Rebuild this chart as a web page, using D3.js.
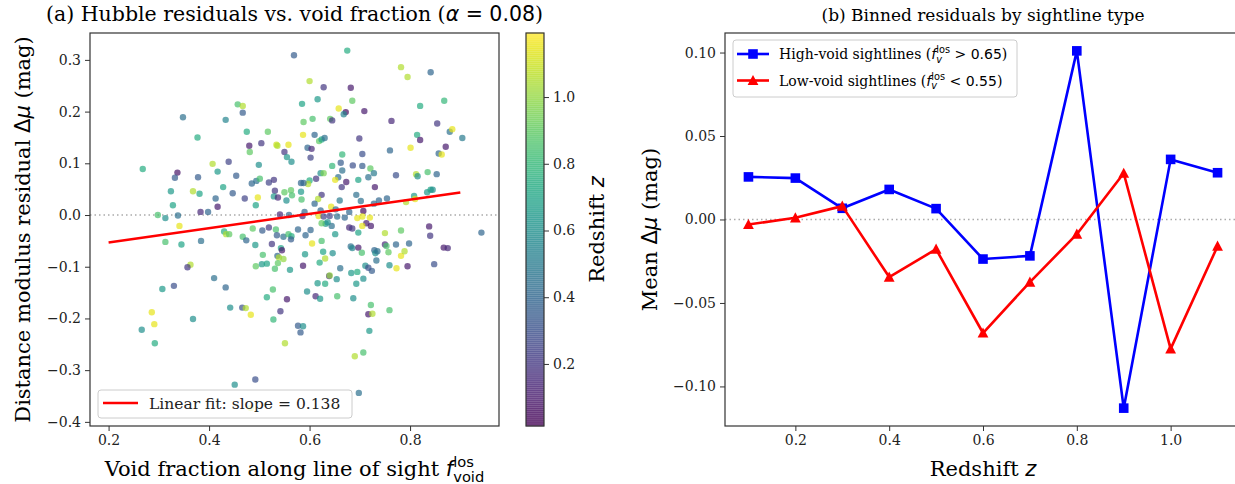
<!DOCTYPE html>
<meta charset="utf-8">
<script src="https://d3js.org/d3.v7.min.js"></script>
<style>
  body { margin: 0; background: #fff; }
  text { white-space: pre; }
</style>
<svg id="chart"></svg>
<script>

// ---- data ----
// scatter: [void fraction f_los, residual dmu (mag), redshift z]
const sneData = [
  [0.569,0.309,0.35],[0.457,0.214,0.85],[0.467,0.211,1.05],[0.467,0.198,0.35],[0.348,0.189,0.45],
  [0.433,0.184,0.55],[0.377,0.150,0.75],[0.475,0.161,0.75],[0.517,0.161,0.9],[0.480,0.134,0.1],
  [0.481,0.122,0.9],[0.504,0.139,0.2],[0.534,0.136,1.1],[0.536,0.134,1.05],[0.558,0.136,1.15],
  [0.550,0.122,0.2],[0.555,0.112,0.65],[0.564,0.103,0.6],[0.268,0.089,0.75],[0.337,0.082,0.08],
  [0.332,0.072,0.35],[0.378,0.073,0.35],[0.407,0.099,1.05],[0.417,0.084,0.65],[0.439,0.103,0.25],
  [0.454,0.076,0.35],[0.499,0.097,0.6],[0.485,0.061,0.4],[0.494,0.066,0.45],[0.501,0.070,0.85],
  [0.519,0.063,0.25],[0.529,0.068,0.2],[0.324,0.046,0.65],[0.368,0.046,1.05],[0.381,0.041,0.7],
  [0.428,0.054,0.7],[0.447,0.042,0.35],[0.413,0.032,0.4],[0.471,0.032,0.25],[0.497,0.034,1.15],
  [0.531,0.047,0.2],[0.529,0.036,0.65],[0.537,0.034,0.15],[0.550,0.044,0.9],[0.563,0.048,0.9],
  [0.565,0.038,0.85],[0.554,0.028,0.6],[0.328,0.019,0.7],[0.417,0.016,0.1],[0.493,0.019,0.7],
  [0.675,0.318,0.75],[0.782,0.286,1.05],[0.795,0.267,1.05],[0.841,0.276,0.4],[0.600,0.259,1.05],
  [0.628,0.247,0.2],[0.682,0.246,0.1],[0.585,0.215,0.7],[0.616,0.224,0.65],[0.685,0.221,0.9],
  [0.658,0.206,1.15],[0.672,0.199,0.05],[0.668,0.195,0.55],[0.709,0.201,0.1],[0.588,0.180,0.9],
  [0.606,0.186,0.85],[0.641,0.186,0.9],[0.645,0.183,0.2],[0.763,0.182,0.15],[0.820,0.211,0.75],
  [0.868,0.221,0.8],[0.854,0.177,0.2],[0.587,0.155,1.15],[0.610,0.155,0.4],[0.619,0.143,0.9],
  [0.624,0.146,0.7],[0.630,0.149,0.45],[0.699,0.148,0.2],[0.814,0.155,0.75],[0.820,0.145,0.1],
  [0.879,0.161,0.45],[0.884,0.166,1.15],[0.904,0.149,0.5],[0.596,0.130,0.4],[0.604,0.128,0.15],
  [0.602,0.111,0.25],[0.665,0.117,0.8],[0.705,0.118,0.3],[0.760,0.125,0.4],[0.801,0.130,1.15],
  [0.857,0.119,0.4],[0.863,0.117,1.15],[0.871,0.132,0.1],[0.645,0.095,0.8],[0.662,0.101,0.35],
  [0.665,0.086,0.45],[0.686,0.096,0.3],[0.705,0.095,0.35],[0.721,0.090,0.9],[0.728,0.081,0.5],
  [0.717,0.073,0.45],[0.697,0.068,0.7],[0.657,0.073,0.45],[0.622,0.081,0.6],[0.628,0.081,0.95],
  [0.613,0.070,0.2],[0.600,0.067,0.75],[0.597,0.060,1.05],[0.583,0.062,0.4],[0.588,0.062,0.4],
  [0.651,0.068,1.15],[0.673,0.064,0.1],[0.664,0.054,0.2],[0.730,0.054,0.1],[0.772,0.077,0.3],
  [0.812,0.079,1.05],[0.815,0.075,0.6],[0.835,0.083,0.85],[0.853,0.079,0.4],[0.583,0.045,0.65],
  [0.624,0.039,0.2],[0.617,0.031,1.05],[0.584,0.030,0.85],[0.610,0.022,0.4],[0.660,0.028,0.5],
  [0.693,0.039,0.45],[0.702,0.027,0.45],[0.738,0.028,0.4],[0.754,0.032,0.4],[0.808,0.037,0.65],
  [0.792,0.025,1.05],[0.810,0.031,1.15],[0.834,0.044,0.65],[0.841,0.049,0.7],[0.845,0.049,0.6],
  [0.728,0.022,0.4],[0.590,0.006,0.4],[0.622,0.009,0.4],[0.643,0.016,1.15],[0.652,0.011,0.4],
  [0.679,0.006,0.4],[0.707,0.008,0.05],
  [0.298,0.000,0.85],[0.313,-0.006,0.6],[0.338,-0.001,0.45],[0.383,0.006,0.15],[0.398,0.006,0.4],
  [0.341,-0.021,1.15],[0.313,-0.052,0.85],[0.345,-0.057,0.7],[0.384,-0.050,0.45],[0.430,-0.032,0.75],
  [0.434,-0.037,1.05],[0.440,-0.037,0.9],[0.467,-0.042,0.85],[0.474,-0.049,0.4],[0.487,-0.026,0.9],
  [0.506,-0.030,0.35],[0.519,-0.024,0.2],[0.533,-0.028,0.85],[0.535,-0.039,0.35],[0.548,-0.042,0.45],
  [0.558,-0.037,0.85],[0.564,-0.041,0.75],[0.563,-0.047,0.35],[0.492,-0.058,0.65],[0.525,-0.056,0.2],
  [0.543,-0.064,0.7],[0.545,-0.068,0.1],[0.507,-0.077,0.85],[0.536,-0.079,0.4],[0.539,-0.082,1.05],
  [0.548,-0.085,1.0],[0.537,-0.093,0.9],[0.505,-0.095,0.65],[0.515,-0.094,0.7],[0.493,-0.099,0.9],
  [0.531,-0.104,0.85],[0.561,-0.106,0.65],[0.363,-0.096,1.05],[0.357,-0.101,0.2],[0.410,-0.122,0.45],
  [0.433,-0.140,0.4],[0.330,-0.137,0.3],[0.307,-0.143,0.65],[0.527,-0.144,0.85],[0.515,-0.159,0.75],
  [0.555,-0.163,0.1],[0.442,-0.179,0.6],[0.466,-0.179,0.3],[0.473,-0.180,1.05],[0.483,-0.193,1.15],
  [0.542,-0.186,0.2],[0.528,-0.202,0.8],[0.368,-0.201,0.6],[0.286,-0.188,1.15],[0.291,-0.211,1.15],
  [0.266,-0.222,0.6],[0.292,-0.248,0.75],[0.551,-0.248,1.05],[0.451,-0.328,0.6],[0.492,-0.318,0.3],
  [0.483,-0.373,1.1],[0.541,0.001,0.15],[0.559,0.000,0.4],
  [0.577,-0.028,0.4],[0.602,-0.029,0.4],[0.592,-0.039,0.4],[0.605,-0.055,1.15],[0.624,-0.050,0.85],
  [0.591,-0.076,0.65],[0.627,-0.071,0.7],[0.631,-0.084,1.05],[0.646,-0.074,0.6],[0.620,-0.092,0.75],
  [0.587,-0.098,0.1],[0.616,-0.132,0.65],[0.631,-0.133,0.75],[0.639,-0.118,0.15],[0.640,-0.117,1.0],
  [0.654,-0.124,0.6],[0.661,-0.103,0.45],[0.595,-0.148,0.6],[0.612,-0.157,0.15],[0.621,-0.162,0.65],
  [0.655,-0.157,0.85],[0.687,-0.161,0.6],[0.683,-0.112,0.65],[0.695,-0.110,0.75],[0.693,-0.133,0.65],
  [0.707,-0.123,0.6],[0.711,-0.098,0.6],[0.717,-0.102,0.3],[0.724,-0.108,0.35],[0.682,-0.061,0.45],
  [0.685,-0.064,0.55],[0.697,-0.063,0.1],[0.704,-0.073,0.85],[0.729,-0.068,0.4],[0.731,-0.074,0.6],
  [0.735,-0.070,0.45],[0.733,-0.088,0.45],[0.750,-0.057,0.15],[0.753,-0.060,0.85],[0.757,-0.072,0.9],
  [0.772,-0.057,0.4],[0.759,-0.097,0.6],[0.773,-0.103,1.15],[0.795,-0.099,0.1],[0.782,-0.079,1.15],
  [0.789,-0.070,1.05],[0.798,-0.055,0.4],[0.750,-0.035,1.05],[0.782,-0.030,0.9],[0.838,-0.022,0.1],
  [0.840,-0.040,0.2],[0.867,-0.063,0.1],[0.875,-0.064,0.15],[0.848,-0.095,0.3],[0.942,-0.034,0.4],
  [0.722,-0.174,0.85],[0.717,-0.192,0.1],[0.725,-0.191,1.05],[0.719,-0.224,0.65],[0.759,-0.184,0.85],
  [0.690,-0.273,1.05],[0.707,-0.266,0.85],[0.698,-0.344,0.45],[0.577,-0.214,0.35],[0.587,-0.215,0.6],
  [0.582,-0.227,0.35],[0.586,-0.002,0.15],[0.618,-0.002,1.15],[0.628,-0.003,0.25],[0.640,-0.002,0.25],
  [0.655,-0.003,0.45],[0.670,-0.005,0.4],[0.695,-0.006,1.15],[0.705,-0.003,1.15],[0.720,-0.005,1.15],
  [0.713,-0.016,0.1],[0.722,-0.021,0.1],[0.705,-0.021,1.15],[0.679,-0.024,0.15],[0.685,-0.026,0.2],
  [0.697,-0.034,0.7],[0.651,-0.037,0.65],[0.644,-0.021,0.45],[0.632,-0.017,0.65],[0.624,-0.016,0.9],
  [0.636,-0.014,0.6]
];

// linear fit shown in panel (a)
const fitSlope = 0.138;
const fitIntercept = -0.0806;
const fitRange = [0.2, 0.9];

// panel (b) binned means
const zBins = [0.1, 0.2, 0.3, 0.4, 0.5, 0.6, 0.7, 0.8, 0.9, 1.0, 1.1];
const highVoidMean = [0.0255, 0.0248, 0.0067, 0.018, 0.0065, -0.0237, -0.0218, 0.101, -0.113, 0.036, 0.028];
const lowVoidMean = [-0.003, 0.001, 0.008, -0.0345, -0.0178, -0.068, -0.0375, -0.0088, 0.0277, -0.0775, -0.016];

// tick values
const xTicksA = [0.2, 0.4, 0.6, 0.8];
const yTicksA = [-0.4, -0.3, -0.2, -0.1, 0.0, 0.1, 0.2, 0.3];
const cbTicks = [0.2, 0.4, 0.6, 0.8, 1.0];
const xTicksB = [0.2, 0.4, 0.6, 0.8, 1.0];
const yTicksB = [-0.10, -0.05, 0.00, 0.05, 0.10];

// ---- layout ----
const W = 1235, H = 484;
const SERIF = "'DejaVu Serif', serif";
const SANS = "'DejaVu Sans', sans-serif";
const A = {left: 90, right: 499, top: 33, bottom: 426};
const CB = {left: 526, right: 544};
const B = {left: 725, right: 1241};
const TICK_FS = 14, LABEL_FS = 21;

const svg = d3.select("#chart").attr("width", W).attr("height", H);

// small helper to write labels with math bits (italic sans, sup/sub)
function richText(parent, parts, size) {
  const g = parent.append("g");
  let x = 0;
  parts.forEach(p => {
    if (p.sup !== undefined || p.sub !== undefined) {
      let w = 0;
      const s = size * 0.7;
      if (p.sup) {
        const t = g.append("text").attr("x", x).attr("y", -size * 0.42)
          .style("font-family", SANS).style("font-size", s + "px").text(p.sup);
        w = Math.max(w, t.node().getComputedTextLength());
      }
      if (p.sub) {
        const t = g.append("text").attr("x", x).attr("y", size * 0.28)
          .style("font-family", SANS).style("font-style", p.subIt ? "italic" : "normal")
          .style("font-size", s + "px").text(p.sub);
        w = Math.max(w, t.node().getComputedTextLength());
      }
      x += w;
    } else {
      const t = g.append("text").attr("x", x).attr("y", 0)
        .style("font-family", p.math ? SANS : SERIF)
        .style("font-style", p.it ? "italic" : "normal")
        .style("font-size", size + "px").text(p.t);
      x += t.node().getComputedTextLength();
    }
  });
  return {g: g, width: x};
}

function placeCentered(parts, size, cx, cy, rotate) {
  const holder = svg.append("g");
  const r = richText(holder, parts, size);
  r.g.attr("transform", "translate(" + (-r.width / 2) + ",0)");
  holder.attr("transform", "translate(" + cx + "," + cy + ")" + (rotate ? " rotate(" + rotate + ")" : ""));
  return holder;
}

function styleAxis(g) {
  g.attr("font-family", null).attr("font-size", null);
  g.select(".domain").remove();
  g.selectAll(".tick line").attr("stroke", "#333").attr("stroke-width", 1);
  g.selectAll(".tick text").style("font-family", SERIF).style("font-size", TICK_FS + "px").attr("fill", "#222");
}

// ================= panel (a) =================
const xA = d3.scaleLinear().domain([0.163, 0.977]).range([A.left, A.right]);
const yA = d3.scaleLinear().domain([-0.408, 0.352]).range([A.bottom, A.top]);
const zColor = d3.scaleSequential(d3.interpolateViridis).domain([0.014, 1.192]);

svg.append("line")
  .attr("x1", A.left).attr("x2", A.right)
  .attr("y1", yA(0)).attr("y2", yA(0))
  .attr("stroke", "#aaa").attr("stroke-width", 1.5).attr("stroke-dasharray", "1.5,3");

svg.append("g").selectAll("circle")
  .data(sneData)
  .enter().append("circle")
    .attr("cx", d => xA(d[0]))
    .attr("cy", d => yA(d[1]))
    .attr("r", 3.2)
    .attr("fill", d => zColor(d[2]))
    .attr("fill-opacity", 0.7);

svg.append("line")
  .attr("x1", xA(fitRange[0])).attr("y1", yA(fitIntercept + fitSlope * fitRange[0]))
  .attr("x2", xA(fitRange[1])).attr("y2", yA(fitIntercept + fitSlope * fitRange[1]))
  .attr("stroke", "#ff0000").attr("stroke-width", 2.6);

svg.append("g").attr("transform", "translate(0," + A.bottom + ")")
  .call(d3.axisBottom(xA).tickValues(xTicksA).tickFormat(d3.format(".1f")).tickSize(5).tickPadding(4))
  .call(styleAxis);
svg.append("g").attr("transform", "translate(" + A.left + ",0)")
  .call(d3.axisLeft(yA).tickValues(yTicksA).tickFormat(d3.format(".1f")).tickSize(5).tickPadding(4))
  .call(styleAxis);

svg.append("rect")
  .attr("x", A.left).attr("y", A.top)
  .attr("width", A.right - A.left).attr("height", A.bottom - A.top)
  .attr("fill", "none").attr("stroke", "#333").attr("stroke-width", 1.2);

// legend (a)
const legA = svg.append("g").attr("transform", "translate(98,390)");
legA.append("rect").attr("width", 254).attr("height", 28).attr("rx", 3)
  .attr("fill", "#fff").attr("fill-opacity", 0.8).attr("stroke", "#ccc");
legA.append("line").attr("x1", 5).attr("x2", 40).attr("y1", 13).attr("y2", 13)
  .attr("stroke", "#ff0000").attr("stroke-width", 2.6);
legA.append("text").attr("x", 51).attr("y", 19)
  .style("font-family", SERIF).style("font-size", "15.5px").attr("fill", "#222")
  .text("Linear fit: slope = " + fitSlope.toFixed(3));

// colorbar
const yCB = d3.scaleLinear().domain([0.014, 1.192]).range([A.bottom, A.top]);
const cbSteps = d3.range(0, 200).map(i => 0.014 + (1.192 - 0.014) * i / 200);
svg.append("g").selectAll("rect")
  .data(cbSteps)
  .enter().append("rect")
    .attr("x", CB.left)
    .attr("y", d => yCB(d + (1.192 - 0.014) / 200) - 0.3)
    .attr("width", CB.right - CB.left)
    .attr("height", (A.bottom - A.top) / 200 + 0.6)
    .attr("fill", d => zColor(d + (1.192 - 0.014) / 400))
    .attr("fill-opacity", 0.7);
svg.append("rect")
  .attr("x", CB.left).attr("y", A.top)
  .attr("width", CB.right - CB.left).attr("height", A.bottom - A.top)
  .attr("fill", "none").attr("stroke", "#333").attr("stroke-width", 1.2);
svg.append("g").attr("transform", "translate(" + CB.right + ",0)")
  .call(d3.axisRight(yCB).tickValues(cbTicks).tickFormat(d3.format(".1f")).tickSize(5).tickPadding(4))
  .call(styleAxis);

// titles & labels (a)
placeCentered([{t: "(a) Hubble residuals vs. void fraction ("}, {t: "\u03b1", math: true, it: true},
  {t: " = 0.08", math: true}, {t: ")"}], 20.5, (A.left + A.right) / 2, 21);
placeCentered([{t: "Void fraction along line of sight "}, {t: "f", math: true, it: true},
  {sup: "los", sub: "void"}], LABEL_FS, (A.left + A.right) / 2, 476);
placeCentered([{t: "Distance modulus residual "}, {t: "\u0394", math: true}, {t: "\u03bc", math: true, it: true},
  {t: " (mag)"}], LABEL_FS, 30, (A.top + A.bottom) / 2, -90);
placeCentered([{t: "Redshift "}, {t: "z", math: true, it: true}], LABEL_FS, 604, (A.top + A.bottom) / 2, -90);

// ================= panel (b) =================
const xB = d3.scaleLinear().domain([0.05, 1.15]).range([B.left, B.right]);
const yB = d3.scaleLinear().domain([-0.1237, 0.1117]).range([A.bottom, A.top]);

svg.append("line")
  .attr("x1", B.left).attr("x2", B.right)
  .attr("y1", yB(0)).attr("y2", yB(0))
  .attr("stroke", "#aaa").attr("stroke-width", 1.5).attr("stroke-dasharray", "1.5,3");

const series = [
  {name: "high", values: highVoidMean, color: "#0000ff", marker: "square"},
  {name: "low", values: lowVoidMean, color: "#ff0000", marker: "triangle"}
];

const lineB = d3.line().x(d => xB(d[0])).y(d => yB(d[1]));

series.forEach(s => {
  const pts = zBins.map((z, i) => [z, s.values[i]]);
  svg.append("path").datum(pts)
    .attr("d", lineB)
    .attr("fill", "none").attr("stroke", s.color).attr("stroke-width", 2.6)
    .attr("stroke-linejoin", "round");
  const mk = svg.append("g").selectAll("path").data(pts).enter().append("path")
    .attr("transform", d => "translate(" + xB(d[0]) + "," + yB(d[1]) + ")")
    .attr("fill", s.color);
  if (s.marker === "square") mk.attr("d", "M-4.8,-4.8H4.8V4.8H-4.8Z");
  else mk.attr("d", "M0,-5.6L-5.4,4.6H5.4Z");
});

svg.append("g").attr("transform", "translate(0," + A.bottom + ")")
  .call(d3.axisBottom(xB).tickValues(xTicksB).tickFormat(d3.format(".1f")).tickSize(5).tickPadding(4))
  .call(styleAxis);
svg.append("g").attr("transform", "translate(" + B.left + ",0)")
  .call(d3.axisLeft(yB).tickValues(yTicksB).tickFormat(d3.format(".2f")).tickSize(5).tickPadding(4))
  .call(styleAxis);

svg.append("rect")
  .attr("x", B.left).attr("y", A.top)
  .attr("width", B.right - B.left).attr("height", A.bottom - A.top)
  .attr("fill", "none").attr("stroke", "#333").attr("stroke-width", 1.2);

// legend (b)
const legB = svg.append("g").attr("transform", "translate(733,40)");
legB.append("rect").attr("width", 284).attr("height", 57).attr("rx", 3)
  .attr("fill", "#fff").attr("fill-opacity", 0.8).attr("stroke", "#ccc");
const legRows = [
  {s: series[0], label: "High-void sightlines (", rel: " > 0.65", y: 14},
  {s: series[1], label: "Low-void sightlines (", rel: " < 0.55", y: 40.5}
];
legRows.forEach(r => {
  legB.append("line").attr("x1", 4).attr("x2", 36).attr("y1", r.y).attr("y2", r.y)
    .attr("stroke", r.s.color).attr("stroke-width", 2.6);
  legB.append("path").attr("transform", "translate(20," + r.y + ")").attr("fill", r.s.color)
    .attr("d", r.s.marker === "square" ? "M-4.8,-4.8H4.8V4.8H-4.8Z" : "M0,-5.6L-5.4,4.6H5.4Z");
  const holder = legB.append("g").attr("transform", "translate(46," + (r.y + 5) + ")");
  richText(holder, [{t: r.label}, {t: "f", math: true, it: true}, {sup: "los", sub: "v", subIt: true},
    {t: r.rel, math: true}, {t: ")"}], 14);
});

placeCentered([{t: "(b) Binned residuals by sightline type"}], 17, (B.left + B.right) / 2, 21);
placeCentered([{t: "Redshift "}, {t: "z", math: true, it: true}], LABEL_FS, (B.left + B.right) / 2, 476);
placeCentered([{t: "Mean "}, {t: "\u0394", math: true}, {t: "\u03bc", math: true, it: true}, {t: " (mag)"}],
  LABEL_FS, 657, (A.top + A.bottom) / 2, -90);

</script>
